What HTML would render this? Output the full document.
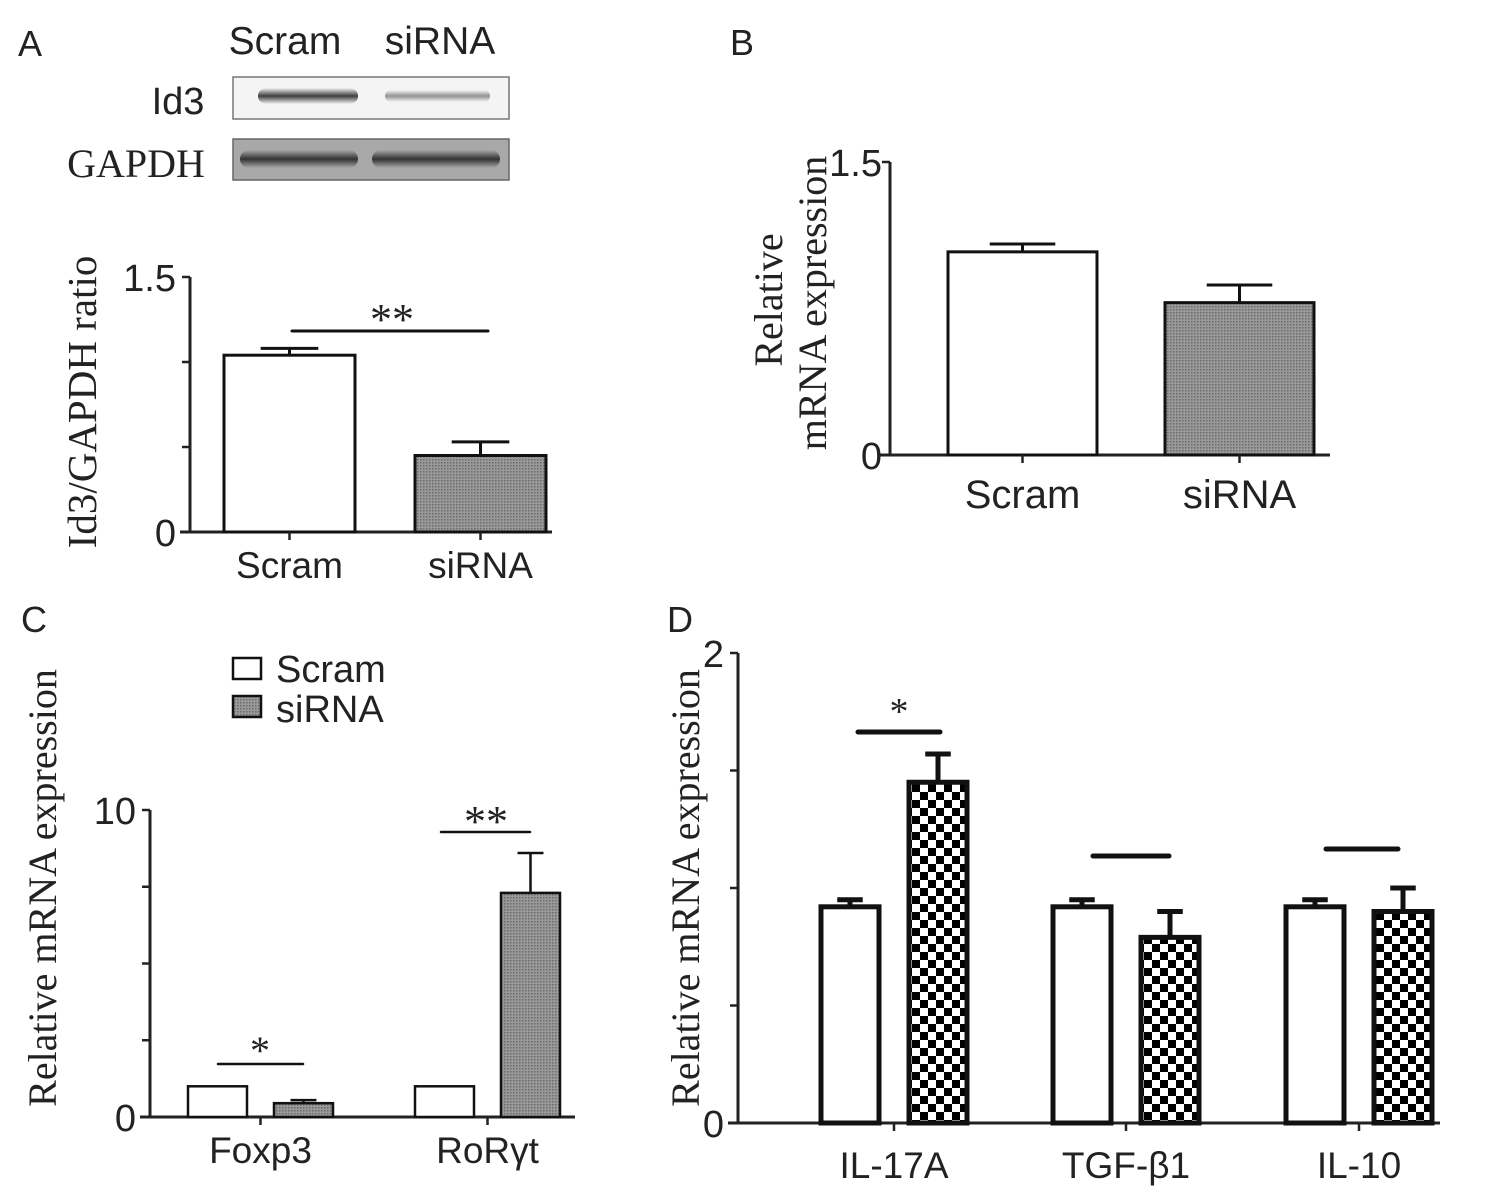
<!DOCTYPE html>
<html><head><meta charset="utf-8"><style>
body{margin:0;background:#fff}
svg text{font-family:"Liberation Sans",sans-serif;fill:#222}
.serif{font-family:"Liberation Serif",serif}
</style></head><body>
<svg id="fig" width="1490" height="1195" viewBox="0 0 1490 1195" xmlns="http://www.w3.org/2000/svg">
<defs>
<pattern id="dots" width="3" height="3" patternUnits="userSpaceOnUse"><rect width="3" height="3" fill="#9a9a9a"/><rect width="1.5" height="1.5" fill="#6a6a6a"/></pattern>
<pattern id="check" width="16" height="16" patternUnits="userSpaceOnUse"><rect width="16" height="16" fill="#fff"/><rect width="8" height="8" fill="#000"/><rect x="8" y="8" width="8" height="8" fill="#000"/></pattern>
<linearGradient id="band" x1="0" x2="0" y1="0" y2="1"><stop offset="0" stop-color="#000" stop-opacity="0"/><stop offset="0.5" stop-color="#000" stop-opacity="1"/><stop offset="1" stop-color="#000" stop-opacity="0"/></linearGradient>
</defs>
<g>
<text x="18" y="56" font-size="36">A</text>
<text x="285" y="54" font-size="39" text-anchor="middle">Scram</text>
<text x="440" y="54" font-size="39" text-anchor="middle">siRNA</text>
<text x="178" y="114" font-size="38" text-anchor="middle">Id3</text>
<text x="136" y="177" font-size="40" text-anchor="middle" class="serif">GAPDH</text>
<rect x="233" y="77" width="276" height="42" fill="#f4f4f4" stroke="#777" stroke-width="1.5"/>
<rect x="258" y="88" width="100" height="16" rx="8" fill="url(#band)" opacity="0.75"/>
<rect x="385" y="90" width="105" height="12" rx="6" fill="url(#band)" opacity="0.4"/>
<rect x="233" y="139" width="276" height="41" fill="#a8a8a8" stroke="#666" stroke-width="1.5"/>
<rect x="240" y="150" width="118" height="18" rx="9" fill="url(#band)" opacity="0.7"/>
<rect x="372" y="150" width="128" height="18" rx="9" fill="url(#band)" opacity="0.7"/>
</g>
<g id="pa"></g>
<g id="pb"></g>
<g id="pc"></g>
<g id="pd"></g>
</svg>
<script>
const aCategories=["Scram","siRNA"];
const aValues=[1.04,0.45];
const aErrors=[0.04,0.08];
const aTicks=[0,0.5,1,1.5];
const bCategories=["Scram","siRNA"];
const bValues=[1.04,0.78];
const bErrors=[0.04,0.09];
const bTicks=[0,1.5];
const cCategories=["Foxp3","RoR\u03b3t"];
const cScram=[1.0,1.0];
const cSirna=[0.45,7.3];
const cScramErr=[0,0];
const cSirnaErr=[0.1,1.3];
const cTicks=[0,2.5,5,7.5,10];
const dCategories=["IL-17A","TGF-\u03b21","IL-10"];
const dScram=[0.92,0.92,0.92];
const dSirna=[1.45,0.79,0.90];
const dScramErr=[0.03,0.03,0.03];
const dSirnaErr=[0.12,0.11,0.10];
const dTicks=[0,0.5,1,1.5,2];

const NS="http://www.w3.org/2000/svg";
function mk(parent,tag,attrs,txt){const e=document.createElementNS(NS,tag);for(const k in attrs)e.setAttribute(k,attrs[k]);if(txt!==undefined)e.textContent=txt;parent.appendChild(e);return e;}
function axis(g,x0,x1,y0,yTop,vMax,ticks,labels,tickSize,lblGap){
  const y=v=>y0-(y0-yTop)*v/vMax;
  const l=mk(g,'line',{x1:x0,x2:x0,y1:y0,y2:yTop,stroke:'#222','stroke-width':3});
  
  
  const b=mk(g,'line',{x1:x0-10,x2:x1,y1:y0,y2:y0,stroke:'#222','stroke-width':3});
  
  
  ticks.forEach(t=>{
    const tk=mk(g,'line',{x1:x0-8,x2:x0,y1:y(t),y2:y(t),stroke:'#222','stroke-width':2.5});
    
    
    if(labels.includes(t)){
      const tl=mk(g,'text',{x:x0-(lblGap||14),y:y(t)+14,'font-size':tickSize,'text-anchor':'end'},String(t));
      
      
    }
  });
  return y;
}
function bar(g,x,w,v,err,y,fill,sw,name){
  const r=mk(g,'rect',{x:x,y:y(v),width:w,height:y(0)-y(v),fill:fill,stroke:'#111','stroke-width':sw});
  
  
  if(err>0){
    const cx=x+w/2;
    const e1=mk(g,'line',{x1:cx,x2:cx,y1:y(v),y2:y(v+err),stroke:'#111','stroke-width':sw});
    
    
    const e2=mk(g,'line',{x1:cx-w*0.22,x2:cx+w*0.22,y1:y(v+err),y2:y(v+err),stroke:'#111','stroke-width':sw});
    
    
  }
}
function txt(g,x,y,s,size,name,cls,rot){
  const a={x:x,y:y,'font-size':size,'text-anchor':'middle'};
  if(cls)a['class']=cls;
  if(rot)a.transform='rotate(-90 '+x+' '+y+')';
  const t=mk(g,'text',a,s);
  
  
  return t;
}
function sig(g,x1,x2,yy,sw,name){
  const l=mk(g,'line',{x1:x1,x2:x2,y1:yy,y2:yy,stroke:'#111','stroke-width':sw,'stroke-linecap':'round'});
  
  
}
// Panel A
(function(){const g=document.getElementById('pa');
 const y=axis(g,190,552,532,277,1.5,aTicks,[0,1.5],38);
 const xs=[224,415],w=131;
 aCategories.forEach((c,i)=>{bar(g,xs[i],w,aValues[i],aErrors[i],y,i?'url(#dots)':'#fff',3,'bar-a-'+c.toLowerCase());
   const tk=mk(g,'line',{x1:xs[i]+w/2,x2:xs[i]+w/2,y1:532,y2:540,stroke:'#222','stroke-width':2.5});
   
   
   txt(g,xs[i]+w/2,578,c,37,'x-label-a-'+c.toLowerCase());});
 sig(g,292,488,331,3,'sig-line-a');
 txt(g,392,334,'**',44,'sig-stars-a','serif');
 txt(g,96,402,'Id3/GAPDH ratio',41,'y-axis-title-a','serif',true);
})();
// Panel B
(function(){const g=document.getElementById('pb');
 txt(g,742,55,'B',36,'panel-b-label');
 const y=axis(g,890,1330,455,162,1.5,bTicks,[0,1.5],38,8);
 const xs=[948,1165],w=149;
 bCategories.forEach((c,i)=>{bar(g,xs[i],w,bValues[i],bErrors[i],y,i?'url(#dots)':'#fff',3,'bar-b-'+c.toLowerCase());
   const tk=mk(g,'line',{x1:xs[i]+w/2,x2:xs[i]+w/2,y1:455,y2:463,stroke:'#222','stroke-width':2.5});
   
   
   txt(g,xs[i]+w/2,508,c,40,'x-label-b-'+c.toLowerCase());});
 txt(g,782,300,'Relative',40,'y-axis-title-b-line1','serif',true);
 txt(g,826,303,'mRNA expression',40,'y-axis-title-b-line2','serif',true);
})();
// Panel C
(function(){const g=document.getElementById('pc');
 txt(g,34,632,'C',36,'panel-c-label');
 const y=axis(g,150,575,1117,810,10,cTicks,[0,10],38);
 const xs=[188,415],w=59,gap=86;
 cCategories.forEach((c,i)=>{
   bar(g,xs[i],w,cScram[i],cScramErr[i],y,'#fff',2.5,'bar-c-scram-'+i);
   bar(g,xs[i]+gap,w,cSirna[i],cSirnaErr[i],y,'url(#dots)',2.5,'bar-c-sirna-'+i);
   const cx=xs[i]+(gap+w)/2;
   const tk=mk(g,'line',{x1:cx,x2:cx,y1:1117,y2:1125,stroke:'#222','stroke-width':2.5});
   
   
   txt(g,cx,1163,c,37,'x-label-c-'+i);});
 sig(g,218,303,1064,2.5,'sig-line-c-foxp3');
 txt(g,260,1064,'*',40,'sig-star-c-foxp3','serif');
 sig(g,441,530,832,2.5,'sig-line-c-rorgt');
 txt(g,486,836,'**',44,'sig-star-c-rorgt','serif');
 const l1=mk(g,'rect',{x:233,y:658,width:28,height:21,fill:'#fff',stroke:'#111','stroke-width':2.5});
 
 
 const l2=mk(g,'rect',{x:233,y:696,width:28,height:21,fill:'url(#dots)',stroke:'#111','stroke-width':2.5});
 
 
 const t1=mk(g,'text',{x:276,y:682,'font-size':38},'Scram');
 
 
 const t2=mk(g,'text',{x:276,y:722,'font-size':38},'siRNA');
 
 
 txt(g,56,888,'Relative mRNA expression',40,'y-axis-title-c','serif',true);
})();
// Panel D
(function(){const g=document.getElementById('pd');
 txt(g,680,632,'D',36,'panel-d-label');
 const y=axis(g,738,1440,1123,653,2,dTicks,[0,2],38);
 const xs=[821,1053,1286],w=58,gap=88;
 dCategories.forEach((c,i)=>{
   bar(g,xs[i],w,dScram[i],dScramErr[i],y,'#fff',5,'bar-d-scram-'+i);
   bar(g,xs[i]+gap,w,dSirna[i],dSirnaErr[i],y,'url(#check)',5,'bar-d-sirna-'+i);
   const cx=xs[i]+(gap+w)/2;
   const tk=mk(g,'line',{x1:cx,x2:cx,y1:1123,y2:1131,stroke:'#222','stroke-width':2.5});
   
   
   txt(g,cx,1178,c,37,'x-label-d-'+i);});
 sig(g,858,940,732,5,'sig-line-d-il17a');
 txt(g,899,724,'*',38,'sig-star-d-il17a','serif');
 sig(g,1093,1169,856,5,'sig-line-d-tgfb1');
 sig(g,1326,1398,849,5,'sig-line-d-il10');
 txt(g,699,888,'Relative mRNA expression',40,'y-axis-title-d','serif',true);
})();
</script>
</body></html>
